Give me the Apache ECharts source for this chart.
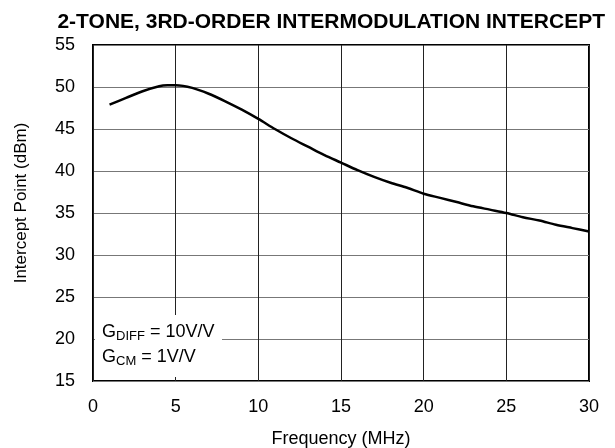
<!DOCTYPE html>
<html>
<head>
<meta charset="utf-8">
<script src="https://cdn.jsdelivr.net/npm/echarts@6/dist/echarts.min.js"></script>
<style>html,body{margin:0;padding:0;background:#fff}#c{width:615px;height:448px}</style>
</head>
<body>
<div id="c"></div>
<script>
var titleText = '2-TONE, 3RD-ORDER INTERMODULATION INTERCEPT';
var xName = 'Frequency (MHz)';
var yName = 'Intercept Point (dBm)';
var freqMHz = [1, 2, 3, 4, 4.5, 5, 6, 7, 8, 9, 10, 11, 12, 13, 14, 15, 16, 17, 18, 19, 20, 21, 22, 23, 24, 25, 26, 27, 28, 29, 30];
var interceptDbm = [47.9, 48.7, 49.5, 50.1, 50.2, 50.2, 49.9, 49.2, 48.3, 47.3, 46.2, 45.0, 43.9, 42.9, 41.9, 41.0, 40.1, 39.3, 38.6, 38.0, 37.3, 36.8, 36.3, 35.8, 35.4, 35.0, 34.5, 34.1, 33.6, 33.2, 32.8];
var annoLine1 = '{g|G}{s|DIFF}{g| = 10V/V}';
var annoLine2 = '{g|G}{s|CM}{g| = 1V/V}';

var FONT = 'Liberation Sans, Arial, Helvetica, sans-serif';
var chart = echarts.init(document.getElementById('c'), null, {renderer: 'canvas'});
var pts = freqMHz.map(function (f, i) { return [f, interceptDbm[i]]; });
var rich = {
  g: {fontFamily: FONT, fontSize: 18, fill: '#000'},
  s: {fontFamily: FONT, fontSize: 13, fill: '#000', padding: [8, 0, 0, 0]}
};
chart.setOption({
  animation: false,
  backgroundColor: '#fff',
  title: {
    text: titleText, right: 5, top: 7,
    textStyle: {fontFamily: FONT, fontSize: 21, fontWeight: 'bold', color: '#000'}
  },
  grid: {left: 93, right: 26, top: 45, bottom: 67, show: true, borderColor: '#000', borderWidth: 2, backgroundColor: 'transparent', containLabel: false, outerBoundsMode: 'none'},
  xAxis: {
    type: 'value', min: 0, max: 30, interval: 5,
    name: xName, nameLocation: 'middle', nameGap: 49,
    nameTextStyle: {fontFamily: FONT, fontSize: 18, color: '#000'},
    axisLine: {show: false}, axisTick: {show: false},
    axisLabel: {fontFamily: FONT, fontSize: 18, color: '#000', margin: 17},
    splitLine: {show: true, lineStyle: {color: '#222', width: 1}}
  },
  yAxis: {
    type: 'value', min: 15, max: 55, interval: 5,
    name: yName, nameLocation: 'middle', nameGap: 63,
    nameTextStyle: {fontFamily: FONT, fontSize: 17, color: '#000', padding: [0, 0, 0, 20]},
    axisLine: {show: false}, axisTick: {show: false},
    axisLabel: {fontFamily: FONT, fontSize: 18, color: '#000', margin: 18},
    splitLine: {show: true, lineStyle: {color: '#777', width: 1}}
  },
  series: [{
    type: 'line', data: pts, smooth: 0.3, showSymbol: false,
    lineStyle: {color: '#000', width: 2.5}
  }],
  graphic: [
    {type: 'rect', z: 1, shape: {x: 95, y: 315, width: 127, height: 62}, style: {fill: '#fff'}},
    {type: 'text', z: 2, x: 102, y: 322, style: {text: annoLine1, fill: '#000', rich: rich}},
    {type: 'text', z: 2, x: 102, y: 347, style: {text: annoLine2, fill: '#000', rich: rich}}
  ]
});
</script>
</body>
</html>
